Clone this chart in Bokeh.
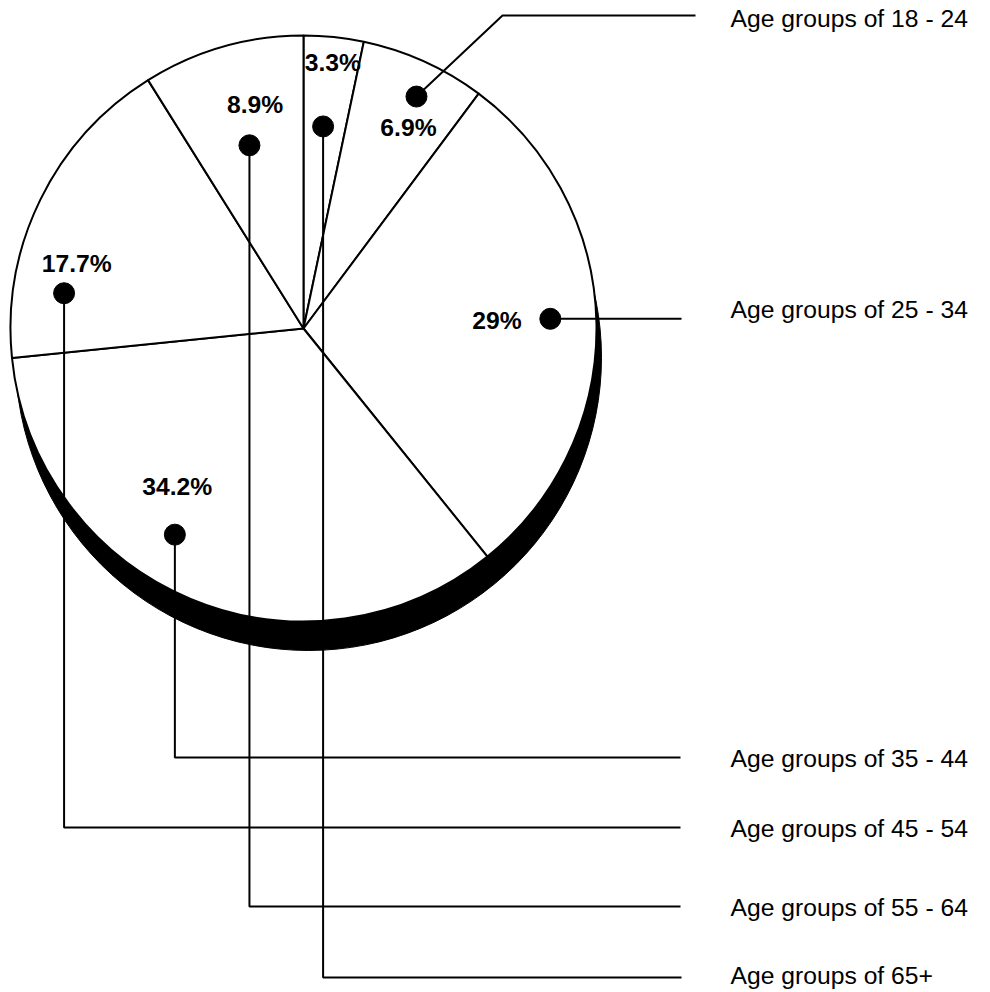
import math
from bokeh.plotting import figure
from bokeh.models import Range1d, ColumnDataSource
from bokeh.embed import file_html
from bokeh.resources import INLINE
from bokeh.core.properties import value

# ---- data (drawing order: clockwise from 12 o'clock) ----
categories = ["Age groups of 65+", "Age groups of 18 - 24", "Age groups of 25 - 34",
              "Age groups of 35 - 44", "Age groups of 45 - 54", "Age groups of 55 - 64"]
shares = [3.3, 6.9, 29.0, 34.2, 17.7, 8.9]

# ---- layout (pixels) ----
CX, CY = 303, 328          # pie centre on page
R = 293                    # pie radius
SHADOW_DX, SHADOW_DY = 5, 29
dot_shift = [-0.4, 1.67, -1.17, 9.28, -17.72, -0.42]   # degrees from slice mid-angle
dot_dist = [203, 258, 247, 243, 242, 191]
label_dx = [9.8, -8, -53.3, 2.4, 12.7, 5.7]
label_dy = [-54.3, 40, 11, -38.3, -20.4, -31.7]
row_y = [977, 15, 318.3, 757, 827, 906]
row_text_dy = [7, 12, 0, 10, 10, 10.5]
row_end_x = [681, 695, 681, 680, 680, 680]
elbow_x = [None, 502, None, None, None, None]
TEXT_X = 730
TEXT_SHIFT = 9.5           # compensates renderer baseline offset
FONT_SIZE = "24.7px"

W, H = 982, 992


def X(sx):
    return sx - CX


def Y(sy):
    return CY - sy


p = figure(width=W, height=H, x_range=Range1d(X(0), X(W)), y_range=Range1d(Y(H), Y(0)),
           output_backend="svg", toolbar_location=None, min_border=0,
           background_fill_color="white", border_fill_color="white")
p.outline_line_color = None
p.axis.visible = False
p.grid.visible = False

# shadow
p.circle(x=[SHADOW_DX], y=[-SHADOW_DY], radius=R, fill_color="black", line_color="black")

# slices
total = sum(shares)
starts, ends, mids = [], [], []
acc = 0.0
for v in shares:
    a1 = acc / total * 360.0
    acc += v
    a2 = acc / total * 360.0
    starts.append(math.radians(90 - a2))
    ends.append(math.radians(90 - a1))
    mids.append((a1 + a2) / 2)

src = ColumnDataSource(dict(x=[0] * len(shares), y=[0] * len(shares), s=starts, e=ends))
p.wedge(x="x", y="y", radius=R, start_angle="s", end_angle="e", direction="anticlock",
        source=src, fill_color="white", line_color="black", line_width=2)

# dots, leaders, labels
dx_, dy_, lx, ly, ltxt = [], [], [], [], []
xs, ys = [], []
tx, ty = [], []
for i, v in enumerate(shares):
    a = math.radians(mids[i] + dot_shift[i])
    px = dot_dist[i] * math.sin(a)
    py = dot_dist[i] * math.cos(a)
    dx_.append(px)
    dy_.append(py)
    lx.append(px + label_dx[i])
    ly.append(py - label_dy[i] + TEXT_SHIFT)
    ltxt.append(f"{v:g}%")
    ry = Y(row_y[i])
    ex = px if elbow_x[i] is None else X(elbow_x[i])
    xs.append([px, ex, X(row_end_x[i])])
    ys.append([py, ry, ry])
    tx.append(X(TEXT_X))
    ty.append(ry - row_text_dy[i] + TEXT_SHIFT)

p.multi_line(xs=xs, ys=ys, line_color="black", line_width=2)
p.scatter(x=dx_, y=dy_, size=21, marker="circle", fill_color="black", line_color="black")
p.text(x=lx, y=ly, text=ltxt, text_font=value("Liberation Sans"), text_font_size=FONT_SIZE,
       text_font_style="bold", text_align="center", text_baseline="alphabetic", text_color="black")
p.text(x=tx, y=ty, text=categories, text_font=value("Liberation Sans"), text_font_size=FONT_SIZE,
       text_align="left", text_baseline="alphabetic", text_color="black")

open("out.html", "w").write(file_html(p, INLINE))
